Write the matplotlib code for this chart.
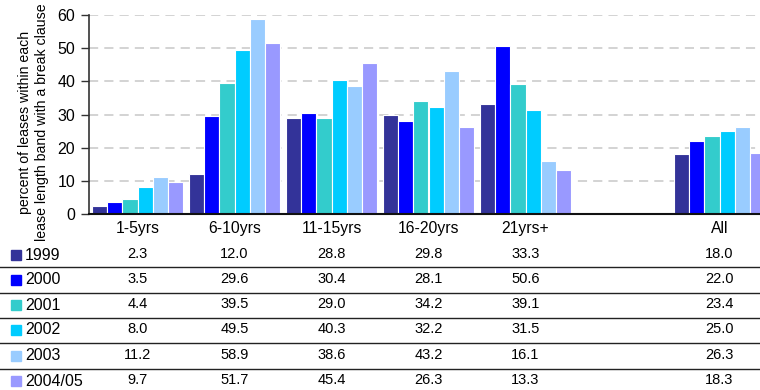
import matplotlib
matplotlib.use("Agg")
import matplotlib.pyplot as plt
from matplotlib.patches import Rectangle
from matplotlib.lines import Line2D
from matplotlib.transforms import blended_transform_factory
import numpy as np

plt.rcParams['font.family'] = ['Liberation Sans', 'DejaVu Sans']

categories = ["1-5yrs", "6-10yrs", "11-15yrs", "16-20yrs", "21yrs+", "", "All"]
years = ["1999", "2000", "2001", "2002", "2003", "2004/05"]
colors = ["#333399", "#0000FF", "#33CCCC", "#00CCFF", "#99CCFF", "#9999FF"]

# None marks the empty slot between the length bands and the overall figure
v1999 = [2.3, 12.0, 28.8, 29.8, 33.3, None, 18.0]
v2000 = [3.5, 29.6, 30.4, 28.1, 50.6, None, 22.0]
v2001 = [4.4, 39.5, 29.0, 34.2, 39.1, None, 23.4]
v2002 = [8.0, 49.5, 40.3, 32.2, 31.5, None, 25.0]
v2003 = [11.2, 58.9, 38.6, 43.2, 16.1, None, 26.3]
v2004 = [9.7, 51.7, 45.4, 26.3, 13.3, None, 18.3]
series = [v1999, v2000, v2001, v2002, v2003, v2004]

yticks = [0, 10, 20, 30, 40, 50, 60]

W, H = 760, 390
fig = plt.figure(figsize=(W / 100, H / 100), dpi=100)
ax = fig.add_axes([89 / W, 1 - 214 / H, (768 - 89) / W, (214 - 15) / H])

x = np.arange(len(categories))
bw = 0.155
for i, (vals, c) in enumerate(zip(series, colors)):
    xs = [xi + (i - 2.5) * bw for xi, v in zip(x, vals) if v is not None]
    hs = [v for v in vals if v is not None]
    ax.bar(xs, hs, width=bw, color=c, edgecolor="white", linewidth=0.8, zorder=3)

ax.set_xlim(-0.5, len(categories) - 0.5)
ax.set_ylim(0, 60)
ax.set_yticks(yticks)
ax.set_yticklabels([str(t) for t in yticks], fontsize=11.5)
ax.tick_params(axis="y", length=6, width=1, color="#333333", pad=4)
ax.set_xticks(x)
ax.set_xticklabels(categories, fontsize=11.3)
ax.tick_params(axis="x", length=0, pad=5)
ax.yaxis.grid(True, linestyle=(0, (6, 4)), color="#c8c8c8", linewidth=1.1, zorder=0)
ax.set_axisbelow(True)
for s in ("top", "right"):
    ax.spines[s].set_visible(False)
ax.spines["left"].set_color("#333333")
ax.spines["left"].set_linewidth(1.2)
ax.spines["bottom"].set_color("#111111")
ax.spines["bottom"].set_linewidth(1.5)
ax.spines["bottom"].set_zorder(5)
ax.spines["left"].set_zorder(5)

fig.text(33.5 / W, 1 - 122 / H,
         "percent of leases within each\nlease length band with a break clause",
         rotation=90, ha="center", va="center", fontsize=10.2, linespacing=1.3)

# Data table beneath the chart
row_y = [255, 280, 305, 330, 356, 381]
sep_y = [267, 293, 318, 343, 369]
trans = blended_transform_factory(ax.transData, fig.transFigure)
for r, (yr, c, vals) in enumerate(zip(years, colors, series)):
    yf = 1 - row_y[r] / H
    fig.patches.append(Rectangle((11 / W, yf - 5 / H), 10 / W, 10 / H,
                                 transform=fig.transFigure, color=c, figure=fig))
    fig.text(25 / W, yf, yr, ha="left", va="center", fontsize=11.5)
    for xi, v in zip(x, vals):
        if v is not None:
            ax.text(xi, yf + 1 / H, f"{v:.1f}", transform=trans, ha="center", va="center",
                    fontsize=10.5, clip_on=False)
for sy in sep_y:
    fig.add_artist(Line2D([0, 1], [1 - sy / H, 1 - sy / H], transform=fig.transFigure,
                          color="#222222", linewidth=1.0))

fig.savefig("out.png", dpi=100)
